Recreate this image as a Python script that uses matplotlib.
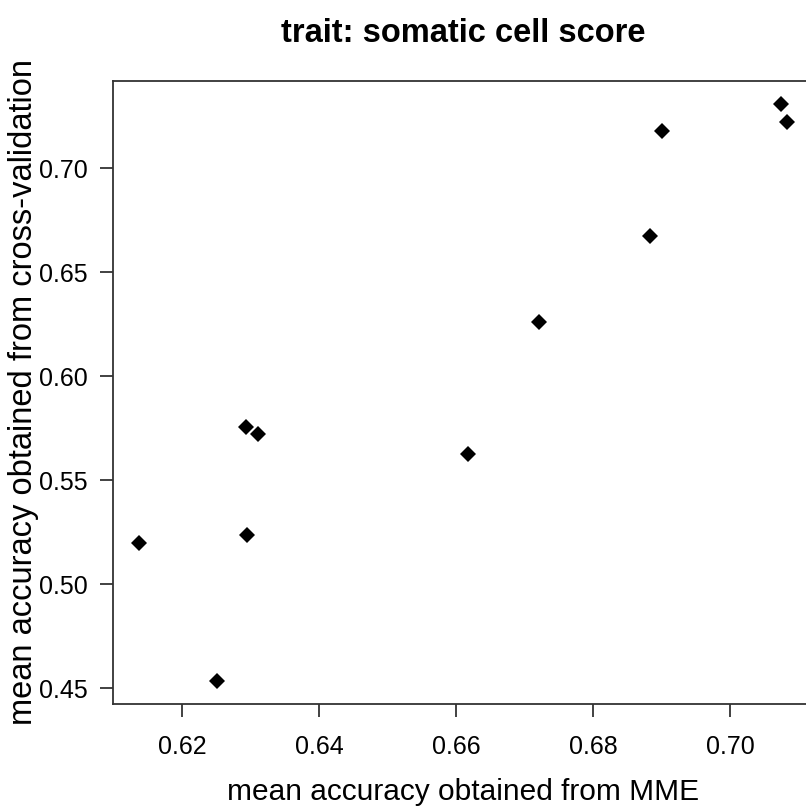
import matplotlib
matplotlib.use("Agg")
import matplotlib.pyplot as plt

# mean accuracy values
mme_acc = [0.62939, 0.63109, 0.62954, 0.61377, 0.62515,
           0.67207, 0.66175, 0.70745, 0.70837, 0.69012, 0.68832]
cv_acc = [0.5756, 0.5721, 0.5234, 0.5196, 0.4534,
          0.6261, 0.5625, 0.7306, 0.7221, 0.7178, 0.6673]

x_ticks = [0.62, 0.64, 0.66, 0.68, 0.70]
y_ticks = [0.45, 0.50, 0.55, 0.60, 0.65, 0.70]

plt.rcParams["font.family"] = ["Liberation Sans", "DejaVu Sans"]

W, H = 806, 807
fig = plt.figure(figsize=(W / 100, H / 100), dpi=100)
# axes box runs slightly past the right edge, like the cropped original
ax = fig.add_axes([113.4 / W, (H - 704) / H, 699.8 / W, 622.7 / H])

ax.plot(mme_acc, cv_acc, "D", color="black", markersize=8.5, markeredgewidth=0)

# R style limits: data range padded by 4 %
def padded(v):
    lo, hi = min(v), max(v)
    d = (hi - lo) * 0.04
    return lo - d, hi + d

ax.set_xlim(*padded(mme_acc))
ax.set_ylim(*padded(cv_acc))

ax.set_xticks(x_ticks)
ax.set_xticklabels([f"{t:.2f}" for t in x_ticks])
ax.set_yticks(y_ticks)
ax.set_yticklabels([f"{t:.2f}" for t in y_ticks])

for s in ax.spines.values():
    s.set_color("#333333")
    s.set_linewidth(1.3)
ax.tick_params(direction="out", length=9.5, width=1.3, color="#333333",
               labelsize=18)
ax.tick_params(axis="x", pad=13)
ax.tick_params(axis="y", pad=9)

# labels and title placed like R's mtext lines
cx = (113.4 + 699.8 / 2) / W
cy = (H - 392) / H
fig.text(cx, (H - 800) / H, "mean accuracy obtained from MME",
         fontsize=21.5, ha="center", va="baseline")
fig.text(24 / W, cy, "mean accuracy obtained from cross-validation",
         fontsize=23.5, rotation=90, ha="center", va="center")
fig.text(cx, (H - 42) / H, "trait: somatic cell score",
         fontsize=23.5, fontweight="bold", ha="center", va="baseline")

fig.savefig("out.png", dpi=100)
